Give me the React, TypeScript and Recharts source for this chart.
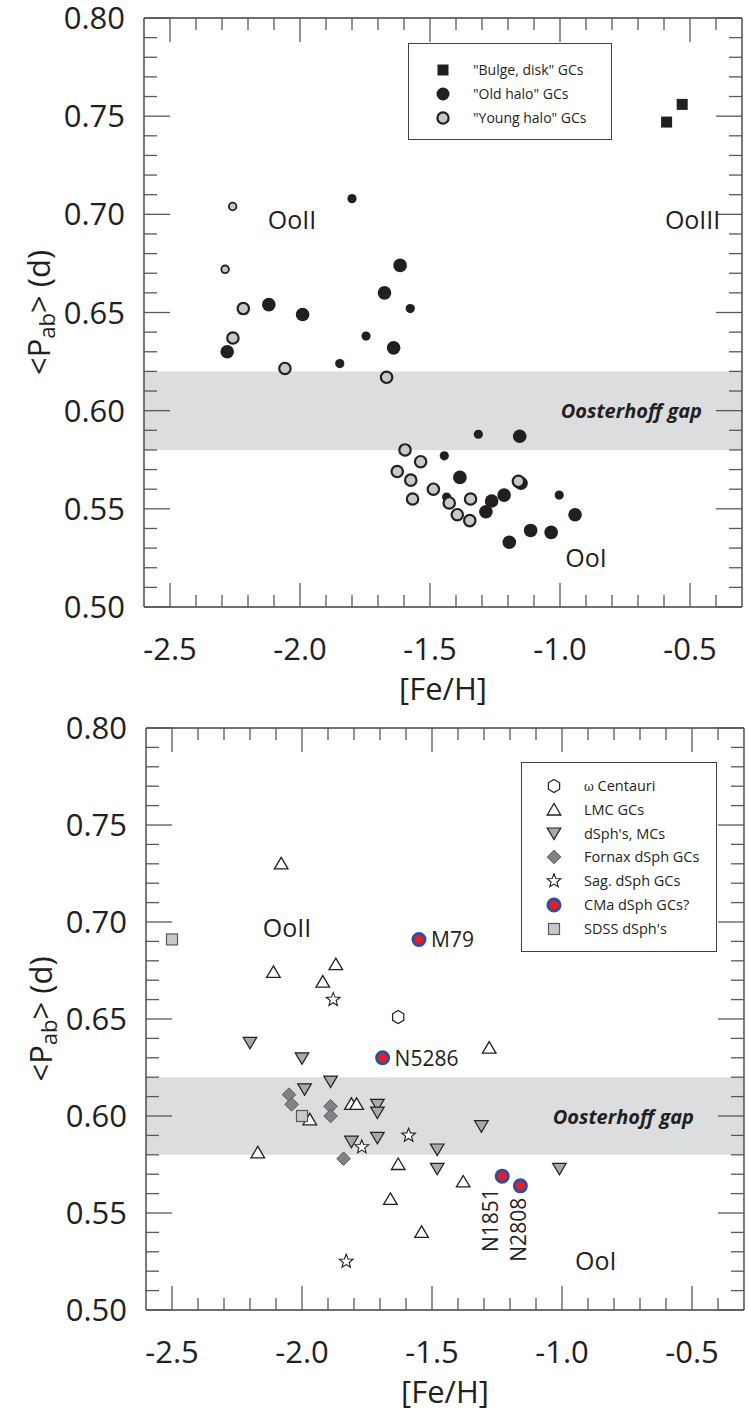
import React from "react";
import {
  ScatterChart,
  Scatter,
  XAxis,
  YAxis,
  ReferenceArea,
  ReferenceDot,
  Legend,
} from "recharts";

const FONT = "'Open Sans', 'Noto Sans', sans-serif";
const INK = "#231f20";
const TICK = "#58595b";
const FRAME = "#414042";
const GAP = "#dcddde";

// axis ticks
const xDomain = [-2.6, -0.3];
const yDomain = [0.5, 0.8];
const xTicks = [-2.5, -2.4, -2.3, -2.2, -2.1, -2.0, -1.9, -1.8, -1.7, -1.6, -1.5, -1.4, -1.3, -1.2, -1.1, -1.0, -0.9, -0.8, -0.7, -0.6, -0.5, -0.4];
const yTicks = [
  0.5, 0.51, 0.52, 0.53, 0.54, 0.55, 0.56, 0.57, 0.58, 0.59, 0.6, 0.61, 0.62, 0.63, 0.64, 0.65,
  0.66, 0.67, 0.68, 0.69, 0.7, 0.71, 0.72, 0.73, 0.74, 0.75, 0.76, 0.77, 0.78, 0.79, 0.8,
];
const gapRange = [0.58, 0.62];

// top panel: Galactic GCs
const bulgeDisk = [
  { x: -0.59, y: 0.747 },
  { x: -0.53, y: 0.756 },
];
const oldHaloBig = [
  { x: -1.615, y: 0.674 }, { x: -1.675, y: 0.66 }, { x: -2.12, y: 0.654 }, { x: -1.99, y: 0.649 },
  { x: -1.64, y: 0.632 }, { x: -2.28, y: 0.63 }, { x: -1.155, y: 0.587 }, { x: -1.385, y: 0.566 },
  { x: -1.15, y: 0.563 }, { x: -1.215, y: 0.557 }, { x: -1.263, y: 0.554 }, { x: -1.285, y: 0.5485 },
  { x: -0.942, y: 0.547 }, { x: -1.113, y: 0.539 }, { x: -1.034, y: 0.538 }, { x: -1.195, y: 0.533 },
];
const oldHaloSmall = [
  { x: -1.8, y: 0.708 }, { x: -1.576, y: 0.652 }, { x: -1.746, y: 0.638 }, { x: -1.847, y: 0.624 },
  { x: -1.314, y: 0.588 }, { x: -1.445, y: 0.577 }, { x: -1.436, y: 0.556 }, { x: -1.003, y: 0.557 },
];
const youngHaloBig = [
  { x: -2.218, y: 0.652 }, { x: -2.258, y: 0.637 }, { x: -2.058, y: 0.6215 }, { x: -1.667, y: 0.617 },
  { x: -1.596, y: 0.58 }, { x: -1.536, y: 0.574 }, { x: -1.626, y: 0.569 }, { x: -1.574, y: 0.5646 },
  { x: -1.487, y: 0.56 }, { x: -1.567, y: 0.555 }, { x: -1.426, y: 0.553 }, { x: -1.344, y: 0.555 },
  { x: -1.16, y: 0.564 }, { x: -1.395, y: 0.547 }, { x: -1.347, y: 0.544 },
];
const youngHaloSmall = [
  { x: -2.259, y: 0.704 },
  { x: -2.288, y: 0.672 },
];

// bottom panel: extragalactic systems
const omegaCen = [{ x: -1.63, y: 0.651 }];
const lmcGCs = [
  { x: -2.08, y: 0.73 }, { x: -2.11, y: 0.674 }, { x: -1.87, y: 0.678 }, { x: -1.92, y: 0.669 },
  { x: -1.28, y: 0.635 }, { x: -1.81, y: 0.606 }, { x: -1.79, y: 0.606 }, { x: -1.97, y: 0.598 },
  { x: -2.17, y: 0.581 }, { x: -1.63, y: 0.575 }, { x: -1.38, y: 0.566 }, { x: -1.66, y: 0.557 },
  { x: -1.54, y: 0.54 },
];
const dSphMCs = [
  { x: -2.2, y: 0.638 }, { x: -2.0, y: 0.63 }, { x: -1.99, y: 0.614 }, { x: -1.89, y: 0.618 },
  { x: -1.71, y: 0.606 }, { x: -1.71, y: 0.602 }, { x: -1.81, y: 0.587 }, { x: -1.71, y: 0.589 },
  { x: -1.31, y: 0.595 }, { x: -1.48, y: 0.583 }, { x: -1.48, y: 0.573 }, { x: -1.01, y: 0.573 },
];
const fornaxGCs = [
  { x: -2.05, y: 0.611 }, { x: -2.04, y: 0.606 }, { x: -1.89, y: 0.605 }, { x: -1.89, y: 0.6 },
  { x: -1.84, y: 0.578 },
];
const sagGCs = [
  { x: -1.88, y: 0.66 }, { x: -1.77, y: 0.584 }, { x: -1.59, y: 0.59 }, { x: -1.83, y: 0.525 },
];
const cmaGCs = [
  { x: -1.55, y: 0.691, name: "M79" },
  { x: -1.69, y: 0.63, name: "N5286" },
  { x: -1.23, y: 0.569, name: "N1851" },
  { x: -1.16, y: 0.564, name: "N2808" },
];
const sdssDSphs = [
  { x: -2.5, y: 0.691 },
  { x: -2.0, y: 0.6 },
];

// ---------- symbols ----------
const pts = (arr: number[][]) => arr.map((p) => p.join(",")).join(" ");

const Square = ({ cx, cy, s = 11, fill = INK, stroke = "none" }: any) => (
  <rect x={cx - s / 2} y={cy - s / 2} width={s} height={s} fill={fill} stroke={stroke} strokeWidth={1.2} />
);
const Dot = ({ cx, cy, r, fill, stroke = "none", sw = 0 }: any) => (
  <circle cx={cx} cy={cy} r={r} fill={fill} stroke={stroke} strokeWidth={sw} />
);
const TriUp = ({ cx, cy, fill = "#fff" }: any) => (
  <polygon points={pts([[cx, cy - 6.5], [cx + 6.8, cy + 5], [cx - 6.8, cy + 5]])} fill={fill} stroke={INK} strokeWidth={1.3} />
);
const TriDown = ({ cx, cy, fill = "#a7a9ac" }: any) => (
  <polygon points={pts([[cx - 6.8, cy - 5], [cx + 6.8, cy - 5], [cx, cy + 6.5]])} fill={fill} stroke={INK} strokeWidth={1.2} />
);
const Diamond = ({ cx, cy }: any) => (
  <polygon points={pts([[cx, cy - 6.8], [cx + 6.8, cy], [cx, cy + 6.8], [cx - 6.8, cy]])} fill="#808285" stroke="#58595b" strokeWidth={1} />
);
const Star = ({ cx, cy }: any) => {
  const p: number[][] = [];
  for (let i = 0; i < 10; i++) {
    const a = -Math.PI / 2 + (i * Math.PI) / 5;
    const r = i % 2 === 0 ? 7.2 : 3.1;
    p.push([cx + r * Math.cos(a), cy + r * Math.sin(a)]);
  }
  return <polygon points={pts(p)} fill="#fff" stroke={INK} strokeWidth={1.1} />;
};
const Hexagon = ({ cx, cy }: any) => {
  const p: number[][] = [];
  for (let i = 0; i < 6; i++) {
    const a = -Math.PI / 2 + (i * Math.PI) / 3;
    p.push([cx + 6.5 * Math.cos(a), cy + 6.5 * Math.sin(a)]);
  }
  return <polygon points={pts(p)} fill="#fff" stroke={INK} strokeWidth={1.2} />;
};
const CmaDot = ({ cx, cy }: any) => <Dot cx={cx} cy={cy} r={6} fill="#ed1c24" stroke="#2e4f9f" sw={3} />;

// labels next to the CMa clusters
const vertLabelDx: Record<string, number> = { N1851: -12, N2808: -2 };
const CmaShape = (p: any) => {
  const { cx, cy, name } = p;
  const vertical = name in vertLabelDx;
  return (
    <g>
      <CmaDot cx={cx} cy={cy} />
      {vertical ? (
        <text
          x={cx + vertLabelDx[name]}
          y={cy + 12}
          transform={`rotate(-90, ${cx + vertLabelDx[name]}, ${cy + 12})`}
          textAnchor="end"
          dominantBaseline="central"
          fontSize={21}
          fill={INK}
        >
          {name}
        </text>
      ) : (
        <text x={cx + 12} y={cy} dominantBaseline="central" fontSize={21} fill={INK}>
          {name}
        </text>
      )}
    </g>
  );
};

// ---------- axes ----------
const isMultiple = (v: number, step: number) => Math.abs(v / step - Math.round(v / step)) < 1e-6;

const XTick = (p: any) => {
  const { x, y, payload, side } = p;
  const v = payload.value;
  const major = isMultiple(v, 0.5);
  const len = major ? 24 : 12;
  const dir = side === "bottom" ? -1 : 1;
  return (
    <g>
      <line x1={x} y1={y} x2={x} y2={y + dir * len} stroke={TICK} strokeWidth={1.3} />
      {side === "bottom" && major && (
        <text x={x} y={y + 53} textAnchor="middle" fontSize={31} fill={INK}>
          {v.toFixed(1)}
        </text>
      )}
    </g>
  );
};

const YTick = (p: any) => {
  const { x, y, payload, side } = p;
  const v = payload.value;
  const major = isMultiple(v, 0.05);
  const len = major ? 26 : 13;
  const dir = side === "left" ? 1 : -1;
  return (
    <g>
      <line x1={x} y1={y} x2={x + dir * len} y2={y} stroke={TICK} strokeWidth={1.3} />
      {side === "left" && major && (
        <text x={x - 19} y={y + 11} textAnchor="end" fontSize={31} fill={INK}>
          {v.toFixed(2)}
        </text>
      )}
    </g>
  );
};

const XTitle = (p: any) => {
  const { x, y, width, height } = p.viewBox;
  return (
    <text x={x + width / 2} y={y + height + 92} textAnchor="middle" fontSize={31} fill={INK}>
      [Fe/H]
    </text>
  );
};

const YTitle = (p: any) => {
  const { x, y, width, height } = p.viewBox;
  const cx = x + width - 106;
  const cy = y + height / 2;
  return (
    <text
      x={cx}
      y={cy}
      transform={`rotate(-90, ${cx}, ${cy})`}
      textAnchor="middle"
      dominantBaseline="central"
      fontSize={31}
      fill={INK}
    >
      {"<P"}
      <tspan fontSize={22} dy={8}>ab</tspan>
      <tspan dy={-8}>{"> (d)"}</tspan>
    </text>
  );
};

const gapLabel = (rightPad: number) => (p: any) => {
  const { x, y, width, height } = p.viewBox;
  return (
    <text
      x={x + width - rightPad}
      y={y + height / 2}
      textAnchor="end"
      dominantBaseline="central"
      fontSize={20}
      fontWeight="bold"
      fontStyle="italic"
      fill={INK}
    >
      Oosterhoff gap
    </text>
  );
};

// axes with 1px thickness: the frame + inward ticks are drawn by custom tick renderers
function frameAxes() {
  return [
    <XAxis
      key="xb"
      type="number"
      dataKey="x"
      domain={xDomain}
      allowDataOverflow
      ticks={xTicks}
      interval={0}
      height={1}
      tickSize={0}
      tickMargin={0}
      tickLine={false}
      axisLine={{ stroke: FRAME, strokeWidth: 1.4 }}
      tick={(p: any) => <XTick {...p} side="bottom" />}
      label={<XTitle />}
    />,
    <XAxis
      key="xt"
      xAxisId="top"
      orientation="top"
      type="number"
      dataKey="x"
      domain={xDomain}
      allowDataOverflow
      ticks={xTicks}
      interval={0}
      height={1}
      tickSize={0}
      tickMargin={0}
      tickLine={false}
      axisLine={{ stroke: FRAME, strokeWidth: 1.4 }}
      tick={(p: any) => <XTick {...p} side="top" />}
    />,
    <YAxis
      key="yl"
      type="number"
      dataKey="y"
      domain={yDomain}
      allowDataOverflow
      ticks={yTicks}
      interval={0}
      width={1}
      tickSize={0}
      tickMargin={0}
      tickLine={false}
      axisLine={{ stroke: FRAME, strokeWidth: 1.4 }}
      tick={(p: any) => <YTick {...p} side="left" />}
      label={<YTitle />}
    />,
    <YAxis
      key="yr"
      yAxisId="right"
      orientation="right"
      type="number"
      dataKey="y"
      domain={yDomain}
      allowDataOverflow
      ticks={yTicks}
      interval={0}
      width={1}
      tickSize={0}
      tickMargin={0}
      tickLine={false}
      axisLine={{ stroke: FRAME, strokeWidth: 1.4 }}
      tick={(p: any) => <YTick {...p} side="right" />}
    />,
  ];
}

// ---------- legends ----------
type LegendItem = { label: React.ReactNode; icon: (cx: number, cy: number) => React.ReactNode };

const topLegendItems: LegendItem[] = [
  { label: '"Bulge, disk" GCs', icon: (cx, cy) => <Square cx={cx} cy={cy} s={11} /> },
  { label: '"Old halo" GCs', icon: (cx, cy) => <Dot cx={cx} cy={cy} r={6.5} fill={INK} /> },
  { label: '"Young halo" GCs', icon: (cx, cy) => <Dot cx={cx} cy={cy} r={5.6} fill="#c7c8ca" stroke={INK} sw={2.2} /> },
];

const bottomLegendItems: LegendItem[] = [
  {
    label: (
      <>
        <span style={{ fontFamily: "'DejaVu Serif', serif", fontSize: 12 }}>ω</span> Centauri
      </>
    ),
    icon: (cx, cy) => <Hexagon cx={cx} cy={cy} />,
  },
  { label: "LMC GCs", icon: (cx, cy) => <TriUp cx={cx} cy={cy} /> },
  { label: "dSph's, MCs", icon: (cx, cy) => <TriDown cx={cx} cy={cy} /> },
  { label: "Fornax dSph GCs", icon: (cx, cy) => <Diamond cx={cx} cy={cy} /> },
  { label: "Sag. dSph GCs", icon: (cx, cy) => <Star cx={cx} cy={cy} /> },
  { label: "CMa dSph GCs?", icon: (cx, cy) => <CmaDot cx={cx} cy={cy} /> },
  { label: "SDSS dSph's", icon: (cx, cy) => <Square cx={cx} cy={cy} s={11} fill="#c7c8ca" stroke="#58595b" /> },
];

const LegendBox = ({ items, iconX, textX, padTop, rowH, fontSize }: any) => (
  <div
    style={{
      width: "100%",
      height: "100%",
      boxSizing: "border-box",
      border: `1.3px solid ${FRAME}`,
      background: "#fff",
      paddingTop: padTop,
      fontFamily: FONT,
      fontSize,
      color: INK,
    }}
  >
    {items.map((it: LegendItem, i: number) => (
      <div key={i} style={{ position: "relative", height: rowH, lineHeight: `${rowH}px`, whiteSpace: "nowrap" }}>
        <svg width={20} height={20} style={{ position: "absolute", left: iconX - 10, top: rowH / 2 - 10 }}>
          {it.icon(10, 10)}
        </svg>
        <span style={{ position: "absolute", left: textX }}>{it.label}</span>
      </div>
    ))}
  </div>
);

const annot = (value: string) => ({ value, position: "center" as const, fontSize: 25, fill: INK });

function TopPanel() {
  return (
    <ScatterChart width={748} height={720} margin={{ top: 17, right: 5, bottom: 112, left: 143 }}>
      <ReferenceArea y1={gapRange[0]} y2={gapRange[1]} fill={GAP} fillOpacity={1} stroke="none" label={gapLabel(40)} />
      {frameAxes()}
      <ReferenceDot x={-2.031} y={0.697} r={1} fill="none" stroke="none" label={annot("OoII")} />
      <ReferenceDot x={-0.49} y={0.697} r={1} fill="none" stroke="none" label={annot("OoIII")} />
      <ReferenceDot x={-0.9} y={0.525} r={1} fill="none" stroke="none" label={annot("OoI")} />
      <Scatter name="Old halo big" data={oldHaloBig} isAnimationActive={false} shape={(p: any) => <Dot cx={p.cx} cy={p.cy} r={6.8} fill={INK} />} />
      <Scatter name="Old halo small" data={oldHaloSmall} isAnimationActive={false} shape={(p: any) => <Dot cx={p.cx} cy={p.cy} r={4.6} fill={INK} />} />
      <Scatter name="Young halo big" data={youngHaloBig} isAnimationActive={false} shape={(p: any) => <Dot cx={p.cx} cy={p.cy} r={5.7} fill="#c7c8ca" stroke={INK} sw={2.2} />} />
      <Scatter name="Young halo small" data={youngHaloSmall} isAnimationActive={false} shape={(p: any) => <Dot cx={p.cx} cy={p.cy} r={3.8} fill="#c7c8ca" stroke={INK} sw={1.8} />} />
      <Scatter name="Bulge, disk" data={bulgeDisk} isAnimationActive={false} shape={(p: any) => <Square cx={p.cx} cy={p.cy} s={11} />} />
      <Legend
        layout="vertical"
        align="center"
        verticalAlign="middle"
        wrapperStyle={{ left: 408, top: 43, width: 204, height: 97 }}
        content={() => <LegendBox items={topLegendItems} iconX={34} textX={64} padTop={14} rowH={24} fontSize={14} />}
      />
    </ScatterChart>
  );
}

function BottomPanel() {
  return (
    <ScatterChart width={748} height={724} margin={{ top: 37, right: 3, bottom: 103, left: 145 }}>
      <ReferenceArea y1={gapRange[0]} y2={gapRange[1]} fill={GAP} fillOpacity={1} stroke="none" label={gapLabel(50)} />
      {frameAxes()}
      <ReferenceDot x={-2.058} y={0.697} r={1} fill="none" stroke="none" label={annot("OoII")} />
      <ReferenceDot x={-0.87} y={0.525} r={1} fill="none" stroke="none" label={annot("OoI")} />
      <Scatter name="LMC GCs" data={lmcGCs} isAnimationActive={false} shape={(p: any) => <TriUp cx={p.cx} cy={p.cy} />} />
      <Scatter name="dSph's, MCs" data={dSphMCs} isAnimationActive={false} shape={(p: any) => <TriDown cx={p.cx} cy={p.cy} />} />
      <Scatter name="Fornax dSph GCs" data={fornaxGCs} isAnimationActive={false} shape={(p: any) => <Diamond cx={p.cx} cy={p.cy} />} />
      <Scatter name="Sag. dSph GCs" data={sagGCs} isAnimationActive={false} shape={(p: any) => <Star cx={p.cx} cy={p.cy} />} />
      <Scatter name="SDSS dSph's" data={sdssDSphs} isAnimationActive={false} shape={(p: any) => <Square cx={p.cx} cy={p.cy} s={11} fill="#c7c8ca" stroke="#58595b" />} />
      <Scatter name="omega Centauri" data={omegaCen} isAnimationActive={false} shape={(p: any) => <Hexagon cx={p.cx} cy={p.cy} />} />
      <Scatter name="CMa dSph GCs?" data={cmaGCs} isAnimationActive={false} shape={CmaShape} />
      <Legend
        layout="vertical"
        align="center"
        verticalAlign="middle"
        wrapperStyle={{ left: 521, top: 72, width: 196, height: 190 }}
        content={() => <LegendBox items={bottomLegendItems} iconX={32} textX={62} padTop={11} rowH={23.8} fontSize={14.5} />}
      />
    </ScatterChart>
  );
}

export default function App() {
  return (
    <div style={{ position: "absolute", left: 0, top: 0, width: 748, height: 1414, background: "#fff", fontFamily: FONT, color: INK }}>
      <div style={{ position: "absolute", left: 0, top: 0 }}>
        <TopPanel />
      </div>
      <div style={{ position: "absolute", left: 0, top: 690 }}>
        <BottomPanel />
      </div>
    </div>
  );
}
